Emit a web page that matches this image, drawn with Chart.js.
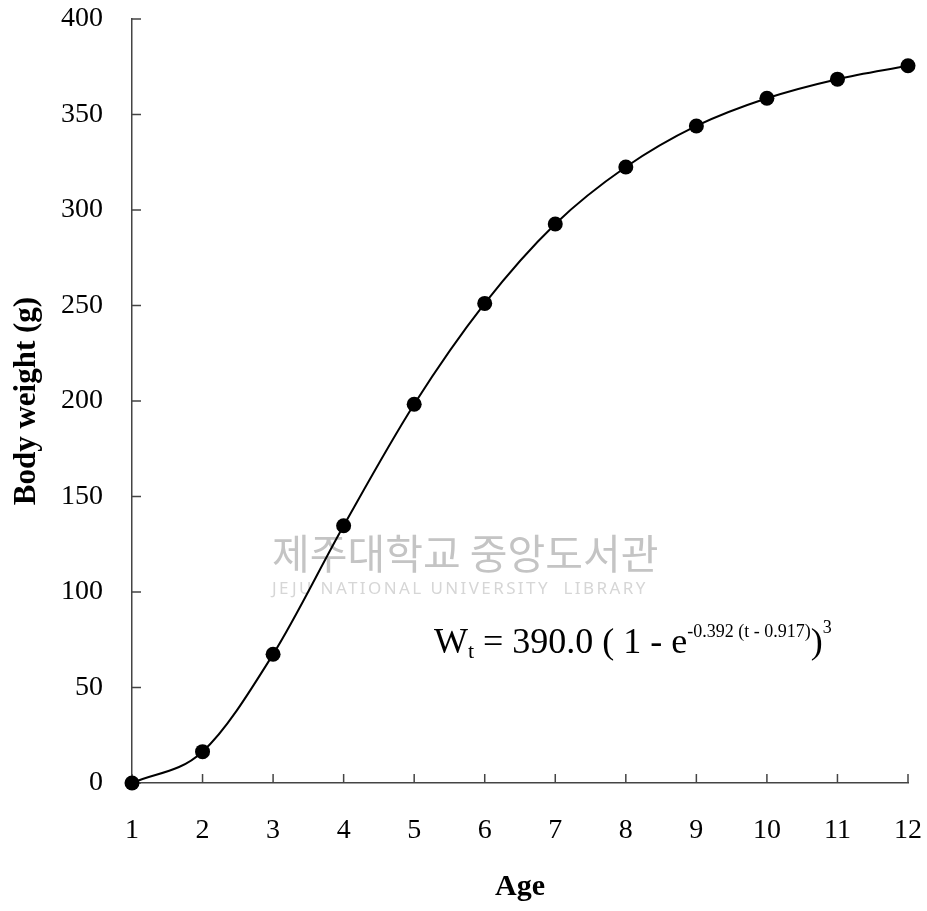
<!DOCTYPE html>
<html>
<head>
<meta charset="utf-8">
<script src="https://cdn.jsdelivr.net/npm/chart.js@4.4.1/dist/chart.umd.min.js"></script>
<style>
  html, body { margin: 0; padding: 0; background: #fff; }
  #wrap { width: 927px; height: 911px; }
</style>
</head>
<body>
<div id="wrap"><canvas id="chart" width="927" height="911"></canvas></div>
<script>
// values
const ages = [1, 2, 3, 4, 5, 6, 7, 8, 9, 10, 11, 12];
const bodyWeight = [0, 16.4, 67.4, 134.7, 198.3, 251.1, 292.7, 322.5, 344, 358.5, 368.5, 375.5];
const xTicks = [1, 2, 3, 4, 5, 6, 7, 8, 9, 10, 11, 12];
const yTicks = [0, 50, 100, 150, 200, 250, 300, 350, 400];

const xTitle = 'Age';
const yTitle = 'Body weight (g)';
const watermarkKo = '제주대학교 중앙도서관';
const watermarkEn = 'JEJU NATIONAL UNIVERSITY  LIBRARY';

const SERIF = '"Liberation Serif", "Times New Roman", serif';
const AXIS = '#444';

// ticks point inward, so draw them ourselves from the scales
const inwardTicks = {
  id: 'inwardTicks',
  beforeDatasetsDraw(chart) {
    const { ctx, chartArea: a, scales: { x, y } } = chart;
    ctx.save();
    ctx.strokeStyle = AXIS;
    ctx.lineWidth = 1.5;
    ctx.beginPath();
    x.ticks.forEach(t => {
      const px = x.getPixelForValue(t.value);
      ctx.moveTo(px, a.bottom);
      ctx.lineTo(px, a.bottom - 9);
    });
    y.ticks.forEach(t => {
      const py = y.getPixelForValue(t.value);
      ctx.moveTo(a.left, py);
      ctx.lineTo(a.left + 9, py);
    });
    ctx.stroke();
    ctx.restore();
  }
};

// faint library stamp that sits behind the curve in the scan
const watermark = {
  id: 'watermark',
  beforeDatasetsDraw(chart) {
    const { ctx } = chart;
    ctx.save();
    ctx.textBaseline = 'alphabetic';
    ctx.fillStyle = '#c4c4c4';
    ctx.font = '41px "Noto Sans CJK KR"';
    ctx.fillText(watermarkKo, 272, 569);
    ctx.fillStyle = '#d6d6d6';
    ctx.font = '17px "Noto Sans"';
    ctx.letterSpacing = '2.4px';
    ctx.fillText(watermarkEn, 272, 594);
    ctx.restore();
  }
};

// W_t = 390.0 ( 1 - e^{-0.392 (t - 0.917)} )^3
const equation = {
  id: 'equation',
  afterDatasetsDraw(chart) {
    const { ctx, scales: { x, y } } = chart;
    let px = x.getPixelForValue(5.28);
    const base = y.getPixelForValue(68);
    const big = '36px ' + SERIF, small = '22px ' + SERIF, sup = '18px ' + SERIF;
    ctx.save();
    ctx.fillStyle = '#000';
    ctx.textBaseline = 'alphabetic';
    const put = (txt, font, dy) => {
      ctx.font = font;
      ctx.fillText(txt, px, base + dy);
      px += ctx.measureText(txt).width;
    };
    put('W', big, 0);
    put('t', small, 5);
    put(' = 390.0 ( 1 - e', big, 0);
    put('-0.392 (t - 0.917)', sup, -16);
    put(')', big, 0);
    put('3', sup, -20);
    ctx.restore();
  }
};

const noPad = s => { s.paddingTop = 0; s.paddingBottom = 0; s.paddingLeft = 0; s.paddingRight = 0; };

new Chart(document.getElementById('chart'), {
  type: 'line',
  data: {
    datasets: [{
      data: ages.map((a, i) => ({ x: a, y: bodyWeight[i] })),
      borderColor: '#000',
      borderWidth: 2,
      backgroundColor: '#000',
      pointBackgroundColor: '#000',
      pointBorderColor: '#000',
      pointRadius: 7.5,
      pointBorderWidth: 0,
      cubicInterpolationMode: 'monotone',
      clip: false
    }]
  },
  options: {
    responsive: false,
    animation: false,
    layout: { padding: { top: 19, right: 19, left: 0, bottom: 0 } },
    plugins: { legend: { display: false }, tooltip: { enabled: false } },
    scales: {
      x: {
        type: 'linear',
        min: 1,
        max: 12,
        afterBuildTicks: s => { s.ticks = xTicks.map(v => ({ value: v })); },
        afterFit: s => { s.height = 128; noPad(s); },
        grid: { display: false, drawTicks: false },
        border: { display: true, color: AXIS, width: 1.5 },
        ticks: { color: '#000', font: { family: SERIF, size: 28 }, padding: 31 },
        title: {
          display: true, text: xTitle, color: '#000',
          font: { family: SERIF, size: 30, weight: 'bold' },
          padding: { top: 0, bottom: 6 }
        }
      },
      y: {
        min: 0,
        max: 400,
        afterBuildTicks: s => { s.ticks = yTicks.map(v => ({ value: v })); },
        afterFit: s => { s.width = 132; noPad(s); },
        grid: { display: false, drawTicks: false },
        border: { display: true, color: AXIS, width: 1.5 },
        ticks: { color: '#000', font: { family: SERIF, size: 28 }, padding: 29 },
        title: {
          display: true, text: yTitle, color: '#000',
          font: { family: SERIF, size: 31, weight: 'bold' },
          padding: { top: 8, bottom: 0 }
        }
      }
    }
  },
  plugins: [watermark, inwardTicks, equation]
});
</script>
</body>
</html>
